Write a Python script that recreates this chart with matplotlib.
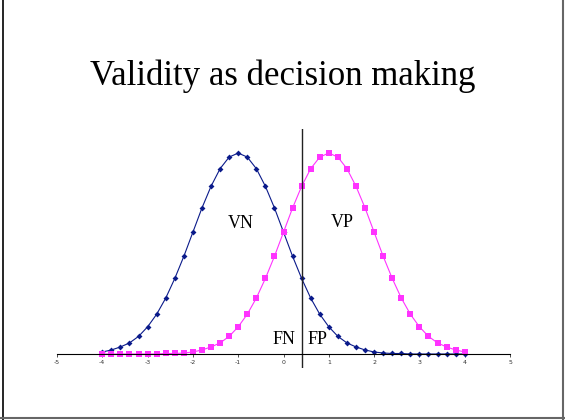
import matplotlib
matplotlib.use("Agg")
import matplotlib.pyplot as plt
from matplotlib.lines import Line2D

# x positions of the markers (step 0.2 from -4 to 4)
x_values = [-4.0, -3.8, -3.6, -3.4, -3.2, -3.0, -2.8, -2.6, -2.4, -2.2,
            -2.0, -1.8, -1.6, -1.4, -1.2, -1.0, -0.8, -0.6, -0.4, -0.2,
            0.0, 0.2, 0.4, 0.6, 0.8, 1.0, 1.2, 1.4, 1.6, 1.8,
            2.0, 2.2, 2.4, 2.6, 2.8, 3.0, 3.2, 3.4, 3.6, 3.8, 4.0]

# negatives (centred at -1)
negatives = [0.004, 0.008, 0.014, 0.022, 0.035, 0.054, 0.079, 0.111, 0.150, 0.194,
             0.242, 0.290, 0.333, 0.368, 0.391, 0.399, 0.391, 0.368, 0.333, 0.290,
             0.242, 0.194, 0.150, 0.111, 0.079, 0.054, 0.035, 0.022, 0.014, 0.008,
             0.004, 0.002, 0.001, 0.001, 0.000, 0.000, 0.000, 0.000, 0.000, 0.000, 0.000]

# positives (centred at +1)
positives = [0.000, 0.000, 0.000, 0.000, 0.000, 0.000, 0.000, 0.001, 0.001, 0.002,
             0.004, 0.008, 0.014, 0.022, 0.035, 0.054, 0.079, 0.111, 0.150, 0.194,
             0.242, 0.290, 0.333, 0.368, 0.391, 0.399, 0.391, 0.368, 0.333, 0.290,
             0.242, 0.194, 0.150, 0.111, 0.079, 0.054, 0.035, 0.022, 0.014, 0.008, 0.004]

threshold = 0.4
tick_values = [-5, -4, -3, -2, -1, 0, 1, 2, 3, 4, 5]

serif = ["Liberation Serif", "DejaVu Serif"]

fig = plt.figure(figsize=(5.65, 4.2), dpi=100)
ax = fig.add_axes([0.1009, 0.1238, 0.8018, 0.569])

ax.plot(x_values, negatives, color="#0a1a8a", lw=0.8, marker="D", ms=3.0,
        markeredgewidth=0)
ax.plot(x_values, positives, color="#ff33ff", lw=0.8, marker="s", ms=3.8,
        markeredgewidth=0)

ax.set_xlim(-5, 5)
ax.set_ylim(-0.0278, 0.4467)
ax.plot([threshold, threshold], [-0.0278, 0.4467], color="#222222", lw=1.0)

for side in ["top", "right", "left"]:
    ax.spines[side].set_visible(False)
ax.spines["bottom"].set_position(("data", 0))
ax.spines["bottom"].set_linewidth(0.8)
ax.set_yticks([])
ax.set_xticks(tick_values)
ax.set_xticklabels([str(t) for t in tick_values])
ax.tick_params(axis="x", direction="out", length=2, width=0.6, pad=2.5,
               labelsize=4.5, colors="#333333")

ax.text(-0.94, 0.26, "VN", fontsize=13, family=serif, ha="center", va="center")
ax.text(1.29, 0.262, "VP", fontsize=13, family=serif, ha="center", va="center")
ax.text(0.007, 0.028, "FN", fontsize=13, family=serif, ha="center", va="center")
ax.text(0.76, 0.028, "FP", fontsize=13, family=serif, ha="center", va="center")

fig.text(0.5, 1 - 76 / 420, "Validity as decision making", fontsize=25,
         family=serif, ha="center", va="center")

# slide frame
fig.add_artist(Line2D([3 / 565, 3 / 565], [0, 1], transform=fig.transFigure,
                      color="black", lw=1.2))
fig.add_artist(Line2D([563 / 565, 563 / 565], [0, 1], transform=fig.transFigure,
                      color="#666666", lw=1.5))
fig.add_artist(Line2D([0, 1], [2 / 420, 2 / 420], transform=fig.transFigure,
                      color="#666666", lw=1.5))

plt.savefig("out.png", dpi=100)
plt.close("all")
